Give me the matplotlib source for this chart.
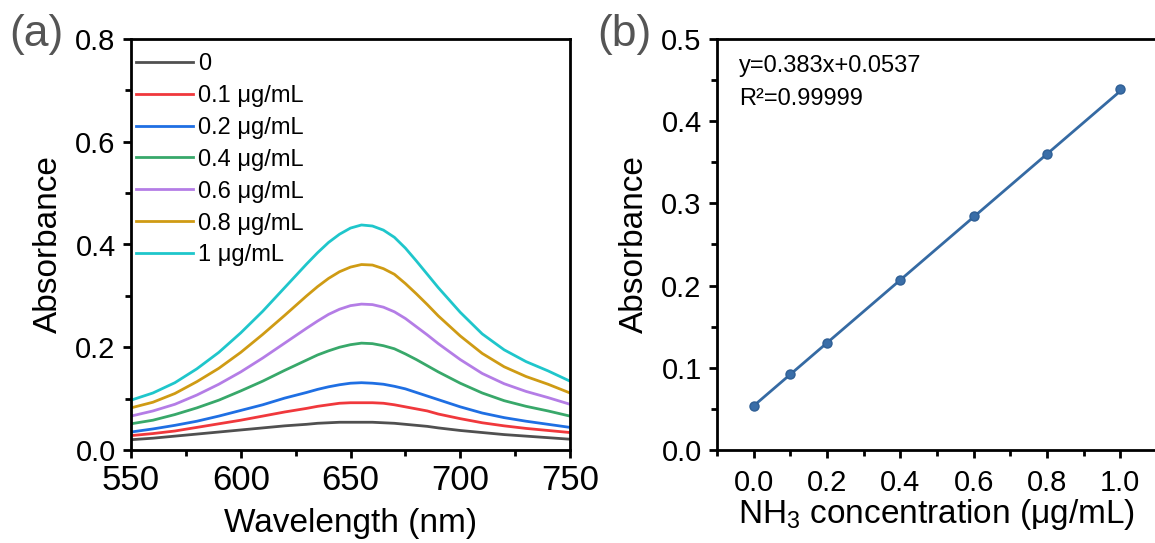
import matplotlib
matplotlib.use("Agg")
import matplotlib.pyplot as plt
from matplotlib.ticker import MultipleLocator, FormatStrFormatter

plt.rcParams['font.family'] = ['Liberation Sans', 'DejaVu Sans']
plt.rcParams['mathtext.fontset'] = 'custom'
plt.rcParams['mathtext.rm'] = 'Liberation Sans'
plt.rcParams['mathtext.it'] = 'Liberation Sans:italic'

# ---- panel (a): UV-vis spectra ----
wavelength = [550, 560, 570, 580, 590, 600, 610, 620, 630, 635, 640, 645, 650, 655,
              660, 665, 670, 675, 680, 685, 690, 700, 710, 720, 730, 740, 750]
abs_0 = [0.020, 0.023, 0.027, 0.031, 0.035, 0.039, 0.043, 0.047, 0.050, 0.052, 0.053, 0.054, 0.054,
         0.054, 0.054, 0.053, 0.052, 0.050, 0.048, 0.046, 0.043, 0.038, 0.034, 0.030, 0.027, 0.024, 0.021]
abs_01 = [0.028, 0.032, 0.037, 0.044, 0.051, 0.058, 0.066, 0.074, 0.081, 0.085, 0.088, 0.091, 0.092,
          0.092, 0.092, 0.091, 0.088, 0.084, 0.080, 0.076, 0.070, 0.061, 0.053, 0.047, 0.042, 0.038, 0.034]
abs_02 = [0.035, 0.041, 0.048, 0.056, 0.066, 0.077, 0.088, 0.101, 0.112, 0.118, 0.123, 0.127, 0.130,
          0.131, 0.130, 0.128, 0.124, 0.119, 0.112, 0.105, 0.098, 0.084, 0.072, 0.063, 0.056, 0.050, 0.044]
abs_04 = [0.051, 0.058, 0.069, 0.082, 0.097, 0.115, 0.134, 0.155, 0.175, 0.185, 0.193, 0.200, 0.205,
          0.208, 0.207, 0.203, 0.197, 0.187, 0.176, 0.164, 0.152, 0.130, 0.111, 0.096, 0.085, 0.076, 0.066]
abs_06 = [0.066, 0.076, 0.089, 0.107, 0.128, 0.152, 0.179, 0.208, 0.237, 0.251, 0.264, 0.274, 0.281,
          0.284, 0.283, 0.278, 0.269, 0.256, 0.240, 0.224, 0.207, 0.176, 0.149, 0.129, 0.114, 0.102, 0.089]
abs_08 = [0.082, 0.093, 0.110, 0.133, 0.159, 0.190, 0.225, 0.262, 0.300, 0.318, 0.334, 0.347, 0.356,
          0.361, 0.360, 0.353, 0.342, 0.324, 0.304, 0.283, 0.261, 0.222, 0.188, 0.162, 0.143, 0.128, 0.111]
abs_1 = [0.097, 0.111, 0.131, 0.158, 0.190, 0.228, 0.270, 0.316, 0.362, 0.384, 0.404, 0.420, 0.432,
         0.438, 0.436, 0.428, 0.414, 0.393, 0.368, 0.342, 0.316, 0.268, 0.226, 0.195, 0.172, 0.154, 0.134]
spectra = [abs_0, abs_01, abs_02, abs_04, abs_06, abs_08, abs_1]
labels = ['0', '0.1 μg/mL', '0.2 μg/mL', '0.4 μg/mL', '0.6 μg/mL', '0.8 μg/mL', '1 μg/mL']
colors = ['#505050', '#f0383c', '#1f6fe3', '#38a86a', '#b47de6', '#cf9b14', '#1fc6cb']

# ---- panel (b): calibration ----
conc = [0.0, 0.1, 0.2, 0.4, 0.6, 0.8, 1.0]
absorb = [0.054, 0.0928, 0.1306, 0.2067, 0.2852, 0.3606, 0.4387]
fit_slope = 0.383
fit_intercept = 0.0537

fig = plt.figure(figsize=(11.55, 5.43), dpi=100)
W, H = 1155, 543
ax1 = fig.add_axes([131 / W, 1 - 450 / H, 439 / W, 411 / H])
ax2 = fig.add_axes([717 / W, 1 - 450 / H, 440 / W, 411 / H])

for y, lab, c in zip(spectra, labels, colors):
    ax1.plot(wavelength, y, color=c, lw=2.0, label=lab)
ax1.set_xlim(550, 750)
ax1.set_ylim(0, 0.8)
ax1.xaxis.set_major_locator(MultipleLocator(50))
ax1.xaxis.set_minor_locator(MultipleLocator(25))
ax1.yaxis.set_major_locator(MultipleLocator(0.2))
ax1.yaxis.set_minor_locator(MultipleLocator(0.1))
ax1.yaxis.set_major_formatter(FormatStrFormatter('%.1f'))
ax1.set_xlabel('Wavelength (nm)', fontsize=24, labelpad=8)
ax1.set_ylabel('Absorbance', fontsize=24, labelpad=8)
ax1.tick_params(axis='x', labelsize=25, pad=4)
ax1.tick_params(axis='y', labelsize=21, pad=5)
leg = ax1.legend(loc='upper left', bbox_to_anchor=(0.012, 0.966), frameon=False,
                 fontsize=17, handlelength=2.4, handletextpad=0.2,
                 labelspacing=0.42, borderpad=0, borderaxespad=0)

ax2.plot([0, 1], [fit_intercept, fit_intercept + fit_slope], color='#356aa3', lw=2.0)
ax2.plot(conc, absorb, 'o', color='#3a6ea8', ms=6.5, mec='#2f5f95', mew=1)
ax2.set_xlim(-0.1, 1.1)
ax2.set_ylim(0, 0.5)
ax2.xaxis.set_major_locator(MultipleLocator(0.2))
ax2.xaxis.set_minor_locator(MultipleLocator(0.1))
ax2.yaxis.set_major_locator(MultipleLocator(0.1))
ax2.yaxis.set_minor_locator(MultipleLocator(0.05))
ax2.xaxis.set_major_formatter(FormatStrFormatter('%.1f'))
ax2.yaxis.set_major_formatter(FormatStrFormatter('%.1f'))
ax2.set_xlabel('NH$_\\mathregular{3}$ concentration (μg/mL)', fontsize=24, labelpad=0)
ax2.set_ylabel('Absorbance', fontsize=24, labelpad=8)
ax2.tick_params(axis='y', labelsize=21, pad=5)
ax2.tick_params(axis='x', labelsize=21, pad=8)
ax2.text(0.05, 0.935, 'y=0.383x+0.0537', transform=ax2.transAxes, fontsize=17, va='center')
ax2.text(0.05, 0.855, 'R²=0.99999', transform=ax2.transAxes, fontsize=17, va='center')

for ax in (ax1, ax2):
    for s in ax.spines.values():
        s.set_linewidth(2.0)
    ax.tick_params(which='major', direction='out', length=6, width=2.0)
    ax.tick_params(which='minor', direction='out', length=4, width=2.0)

fig.text(9 / W, 1 - 35 / H, '(a)', fontsize=32, color='#555555', va='center')
fig.text(597 / W, 1 - 35 / H, '(b)', fontsize=32, color='#555555', va='center')

fig.savefig('out.png', dpi=100)
